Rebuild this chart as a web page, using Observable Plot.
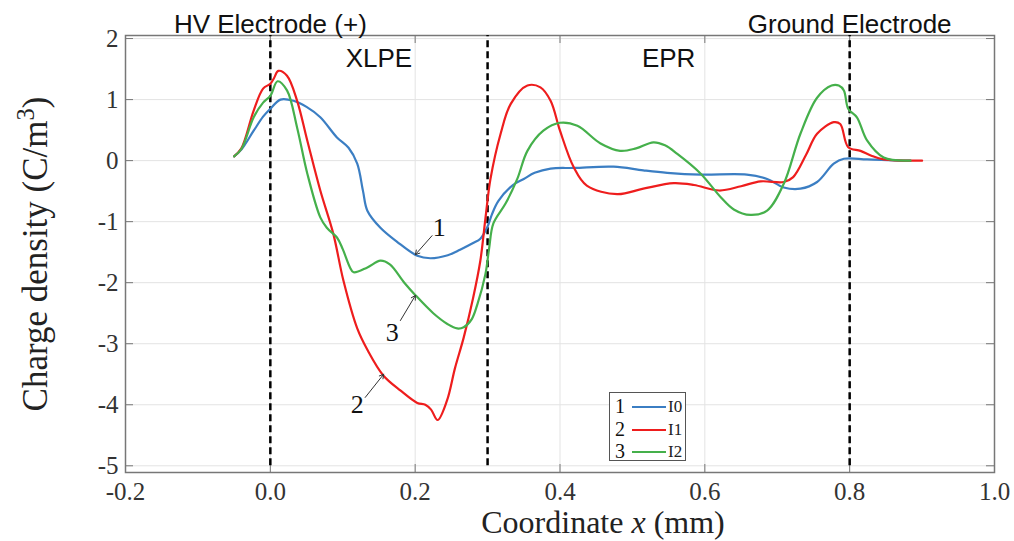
<!DOCTYPE html>
<html><head><meta charset="utf-8">
<script src="https://cdn.jsdelivr.net/npm/d3@7"></script>
<script src="https://cdn.jsdelivr.net/npm/@observablehq/plot@0.6"></script>
<style>
body{margin:0;background:#fff;}
#wrap{position:relative;width:1014px;height:541px;overflow:hidden;background:#fff;}
.title{position:absolute;font-family:"Liberation Serif",serif;font-size:32px;line-height:0.8;white-space:nowrap;color:#222;}
#legend{position:absolute;left:609px;top:392px;width:77px;height:69px;border:1px solid #555;background:#fff;box-sizing:border-box;}
.lrow{position:absolute;left:0;height:22px;width:77px;}
.lnum{position:absolute;left:5px;top:3px;font-family:"Liberation Serif",serif;font-size:20px;line-height:0.8;color:#111;}
.lline{position:absolute;left:22px;top:11px;width:34px;height:2px;}
.llab{position:absolute;left:58px;top:5px;font-family:"Liberation Serif",serif;font-size:17px;line-height:0.8;color:#222;}
</style></head><body><div id="wrap"></div>
<script>
// Series I0 (curve 1)
const xI0 = [-0.05,-0.04,-0.023,-0.01,0,0.014,0.032,0.05,0.069,0.092,0.108,0.12,0.128,0.134,0.152,0.175,0.203,0.221,0.245,0.262,0.28,0.29,0.3,0.306,0.315,0.335,0.35,0.365,0.387,0.42,0.474,0.515,0.548,0.594,0.658,0.686,0.709,0.732,0.755,0.778,0.792,0.824,0.87,0.884];
const yI0 = [0.07,0.18,0.49,0.72,0.85,1.0,0.98,0.88,0.71,0.38,0.21,-0.05,-0.5,-0.82,-1.1,-1.33,-1.56,-1.6,-1.55,-1.46,-1.35,-1.28,-1.08,-0.88,-0.66,-0.4,-0.3,-0.2,-0.13,-0.12,-0.1,-0.16,-0.2,-0.23,-0.23,-0.3,-0.44,-0.46,-0.35,-0.05,0.03,0.02,0.0,0.0];
// Series I1 (curve 2)
const xI1 = [-0.05,-0.04,-0.023,-0.01,0,0.005,0.011,0.023,0.037,0.051,0.069,0.087,0.101,0.12,0.134,0.156,0.18,0.203,0.214,0.222,0.231,0.244,0.255,0.267,0.28,0.29,0.297,0.304,0.318,0.332,0.355,0.373,0.387,0.4,0.419,0.437,0.479,0.515,0.557,0.585,0.62,0.65,0.677,0.709,0.722,0.74,0.755,0.778,0.787,0.798,0.815,0.83,0.847,0.9];
const yI1 = [0.07,0.2,0.82,1.18,1.26,1.35,1.47,1.39,0.98,0.33,-0.49,-1.2,-1.97,-2.75,-3.1,-3.52,-3.77,-3.97,-4.0,-4.08,-4.25,-3.93,-3.4,-2.9,-2.25,-1.64,-0.95,-0.3,0.44,0.93,1.23,1.2,0.98,0.49,-0.11,-0.41,-0.55,-0.46,-0.37,-0.4,-0.49,-0.42,-0.34,-0.35,-0.27,0.1,0.44,0.63,0.6,0.22,0.16,0.08,0.02,0.0];
// Series I2 (curve 3)
const xI2 = [-0.05,-0.04,-0.023,-0.01,0,0.01,0.023,0.037,0.051,0.069,0.078,0.092,0.1,0.11,0.115,0.134,0.152,0.165,0.185,0.2,0.225,0.245,0.258,0.267,0.278,0.286,0.297,0.302,0.308,0.325,0.341,0.355,0.377,0.4,0.424,0.456,0.483,0.505,0.529,0.545,0.562,0.594,0.622,0.64,0.663,0.686,0.709,0.732,0.755,0.775,0.785,0.792,0.798,0.81,0.824,0.847,0.884];
const yI2 = [0.07,0.19,0.71,0.95,1.06,1.3,1.15,0.54,-0.21,-0.93,-1.1,-1.26,-1.45,-1.75,-1.83,-1.75,-1.64,-1.7,-2.0,-2.2,-2.5,-2.68,-2.75,-2.73,-2.6,-2.35,-1.86,-1.45,-1.03,-0.7,-0.3,0.16,0.49,0.62,0.57,0.28,0.16,0.2,0.3,0.25,0.11,-0.21,-0.6,-0.8,-0.89,-0.82,-0.38,0.44,1.03,1.23,1.23,1.15,0.85,0.71,0.33,0.05,0.0];

const seriesNames = ["I0","I1","I2"];
const seriesNums = ["1","2","3"];
const seriesColors = ["#3b7ec3","#ee1d1d","#45b04b"];
const xTicks = [-0.2,0,0.2,0.4,0.6,0.8,1.0];
const yTicks = [-5,-4,-3,-2,-1,0,1,2];
const boundaryX = [0,0.3,0.8];
const electrodeX = [0,0.8];
const electrodeText = ["HV Electrode (+)","Ground Electrode"];
const regionX = [0.15,0.55];
const regionText = ["XLPE","EPR"];
// curve number annotations
const numX = [0.2334,0.12,0.1685];
const numY = [-1.23,-4.13,-2.95];
const numText = ["1","2","3"];
const arrowX1 = [0.2233,0.131,0.1796];
const arrowY1 = [-1.23,-3.88,-2.62];
const arrowX2 = [0.2003,0.1565,0.2003];
const arrowY2 = [-1.54,-3.5,-2.21];

const xs = [xI0,xI1,xI2], ys = [yI0,yI1,yI2];
const rows = [];
seriesNames.forEach((s,i)=>xs[i].forEach((x,j)=>rows.push({series:s,x,y:ys[i][j]})));
const nums = numText.map((t,i)=>({t,x:numX[i],y:numY[i]}));
const arrs = arrowX1.map((x,i)=>({x1:x,y1:arrowY1[i],x2:arrowX2[i],y2:arrowY2[i]}));

const W=1014,H=541,mL=125,mR=20,mT=35,mB=69;
const iW=W-mL-mR, iH=H-mT-mB;
const sans='"Liberation Sans",Arial,sans-serif';
const serif='"Liberation Serif","Times New Roman",serif';

const chart = Plot.plot({
  width:W,height:H,marginLeft:mL,marginRight:mR,marginTop:mT,marginBottom:mB,
  style:{fontFamily:serif,background:"#fff",overflow:"visible"},
  x:{domain:[-0.2,1.0],label:null},
  y:{domain:[-5.11,2.05],label:null},
  color:{domain:seriesNames,range:seriesColors},
  marks:[
    Plot.gridX(xTicks,{stroke:"#e3e3e3",strokeOpacity:1}),
    Plot.gridY(yTicks,{stroke:"#e3e3e3",strokeOpacity:1}),
    Plot.tickX(xTicks,{x:d=>d,insetTop:iH-8,stroke:"#777"}),
    Plot.tickX(xTicks,{x:d=>d,insetBottom:iH-8,stroke:"#777"}),
    Plot.tickY(yTicks,{y:d=>d,insetRight:iW-8,stroke:"#777"}),
    Plot.tickY(yTicks,{y:d=>d,insetLeft:iW-8,stroke:"#777"}),
    Plot.frame({stroke:"#777",strokeWidth:1.5}),
    Plot.axisX(xTicks,{tickSize:0,tickPadding:10,fontSize:25,tickFormat:d=>d.toFixed(1),color:"#333",fontFamily:serif}),
    Plot.axisY(yTicks,{tickSize:0,tickPadding:7,fontSize:25,tickFormat:d=>String(d),color:"#333",fontFamily:serif}),
    Plot.ruleX(boundaryX,{x:d=>d,y1:-5,y2:2.05,stroke:"#000",strokeWidth:2.5,strokeDasharray:"7,4"}),
    Plot.line(rows,{x:"x",y:"y",z:"series",stroke:"series",strokeWidth:2.2,curve:"catmull-rom"}),
    Plot.arrow(arrs,{x1:"x1",y1:"y1",x2:"x2",y2:"y2",stroke:"#333",strokeWidth:1,headLength:7}),
    Plot.text(nums,{x:"x",y:"y",text:"t",fontSize:26,fontFamily:serif,lineAnchor:"bottom",fill:"#111"}),
    Plot.text(electrodeX,{x:d=>d,frameAnchor:"top",text:(d,i)=>electrodeText[i],fontSize:26,fontFamily:sans,lineAnchor:"bottom",dy:-3,fill:"#111"}),
    Plot.text(regionX,{x:d=>d,frameAnchor:"top",text:(d,i)=>regionText[i],fontSize:26,fontFamily:sans,lineAnchor:"bottom",dy:31,fill:"#111"})
  ]
});
const wrap=document.getElementById("wrap");
wrap.appendChild(chart);

const xt=document.createElement("div");
xt.className="title";
xt.style.left="603px";xt.style.top="510px";xt.style.transform="translateX(-50%)";
xt.innerHTML='Coordinate <i>x</i> (mm)';
wrap.appendChild(xt);

const yt=document.createElement("div");
yt.className="title";
yt.style.left="36px";yt.style.top="254px";yt.style.transform="translate(-50%,-50%) rotate(-90deg)";
yt.style.fontSize="35px";
yt.innerHTML='Charge density (C/m<span style="font-size:0.7em;position:relative;top:-0.55em">3</span>)';
wrap.appendChild(yt);

const lg=document.createElement("div");
lg.id="legend";
seriesNames.forEach((s,i)=>{
  const r=document.createElement("div");r.className="lrow";r.style.top=(2+i*22.5)+"px";
  r.innerHTML=`<span class="lnum">${seriesNums[i]}</span><span class="lline" style="background:${seriesColors[i]}"></span><span class="llab">${s}</span>`;
  lg.appendChild(r);
});
wrap.appendChild(lg);
</script></body></html>
